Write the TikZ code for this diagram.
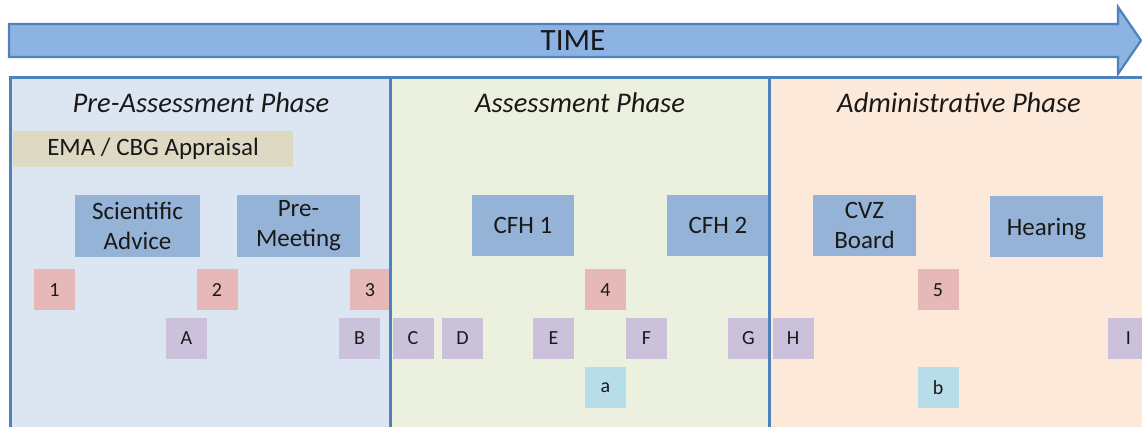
\documentclass[tikz,border=0pt]{standalone}
\usepackage{fontspec}
\setmainfont{Carlito}
\definecolor{arrowfill}{HTML}{8DB3E2}
\definecolor{frameblue}{HTML}{4F81BD}
\definecolor{prebg}{HTML}{DCE6F2}
\definecolor{asmbg}{HTML}{EBF1DE}
\definecolor{admbg}{HTML}{FDE9D9}
\definecolor{actblue}{HTML}{95B3D7}
\definecolor{emabg}{HTML}{DDD9C3}
\definecolor{tilered}{HTML}{E6B9B8}
\definecolor{tilepurple}{HTML}{CCC1DA}
\definecolor{tilecyan}{HTML}{B7DEE8}
\begin{document}
\begin{tikzpicture}[x=1pt,y=-1pt,
  every node/.style={inner sep=0pt,outer sep=0pt,text=black!90},
  phasetitle/.style={font=\fontsize{28.5}{34}\selectfont\itshape},
  act/.style={fill=actblue,align=center,font=\fontsize{25}{30}\selectfont},
  tile/.style={fill=#1,minimum width=41pt,minimum height=41pt,font=\fontsize{20}{24}\selectfont},
  divider/.style={draw=frameblue,line width=3pt}]
\clip (0,0) rectangle (1142,427);
\fill[white] (0,0) rectangle (1142,427);

% time arrow
\draw[fill=arrowfill,draw=frameblue,line width=2.2pt,line join=miter]
  (9,24) -- (1118,24) -- (1118,7) -- (1141,40.5) -- (1118,74) -- (1118,57) -- (9,57) -- cycle;
\node[font=\fontsize{31}{36}\selectfont] (time) at (573,41) {TIME};

% phase panels
\fill[prebg] (10,77.5) rectangle (390,440);
\fill[asmbg] (390,77.5) rectangle (769,440);
\fill[admbg] (769,77.5) rectangle (1160,440);

\node[phasetitle] (pretitle) at (201,103) {Pre-Assessment Phase};
\node[phasetitle] (asmtitle) at (580,103) {Assessment Phase};
\node[phasetitle] (admtitle) at (959,103) {Administrative Phase};

% activities
\node[fill=emabg,minimum width=280pt,minimum height=36pt,font=\fontsize{25}{30}\selectfont] (ema) at (153,149) {EMA / CBG Appraisal};
\node[act,minimum width=125pt,minimum height=62pt] (sa) at (137.5,226) {Scientific\\Advice};
\node[act,minimum width=123pt,minimum height=62pt] (pm) at (298.5,226) {Pre-\\Meeting};
\node[act,minimum width=102pt,minimum height=61pt] (cfh1) at (523,225.5) {CFH 1};
\node[act,minimum width=102pt,minimum height=61pt] (cfh2) at (718,225.5) {CFH 2};
\node[act,minimum width=103pt,minimum height=61pt] (cvz) at (864.5,225.5) {CVZ\\Board};
\node[act,minimum width=113pt,minimum height=61pt,text depth=0pt] (hear) at (1046.5,226.5) {Hearing};

% milestones
\node[tile=tilered] (m1) at (54.5,290) {1};
\node[tile=tilered] (m2) at (217,290) {2};
\node[tile=tilered] (m3) at (370,290) {3};
\node[tile=tilered] (m4) at (605.5,290) {4};
\node[tile=tilered] (m5) at (938,290) {5};

\node[tile=tilepurple] (tA) at (186.5,338.5) {A};
\node[tile=tilepurple] (tB) at (359.5,338.5) {B};
\node[tile=tilepurple] (tC) at (413,338.5) {C};
\node[tile=tilepurple] (tD) at (462.5,338.5) {D};
\node[tile=tilepurple] (tE) at (553.5,338.5) {E};
\node[tile=tilepurple] (tF) at (646.5,338.5) {F};
\node[tile=tilepurple] (tG) at (748.5,338.5) {G};
\node[tile=tilepurple] (tH) at (793,338.5) {H};
\node[tile=tilepurple] (tI) at (1128.5,338.5) {I};

\node[tile=tilecyan] (ta) at (605.5,387.5) {a};
\node[tile=tilecyan] (tb) at (938,387.5) {b};

% panel frame
\draw[divider] (10,440) -- (10,77.5) -- (1160,77.5);
\draw[divider] (390,77.5) -- (390,440);
\draw[divider] (769,77.5) -- (769,440);
\end{tikzpicture}
\end{document}
